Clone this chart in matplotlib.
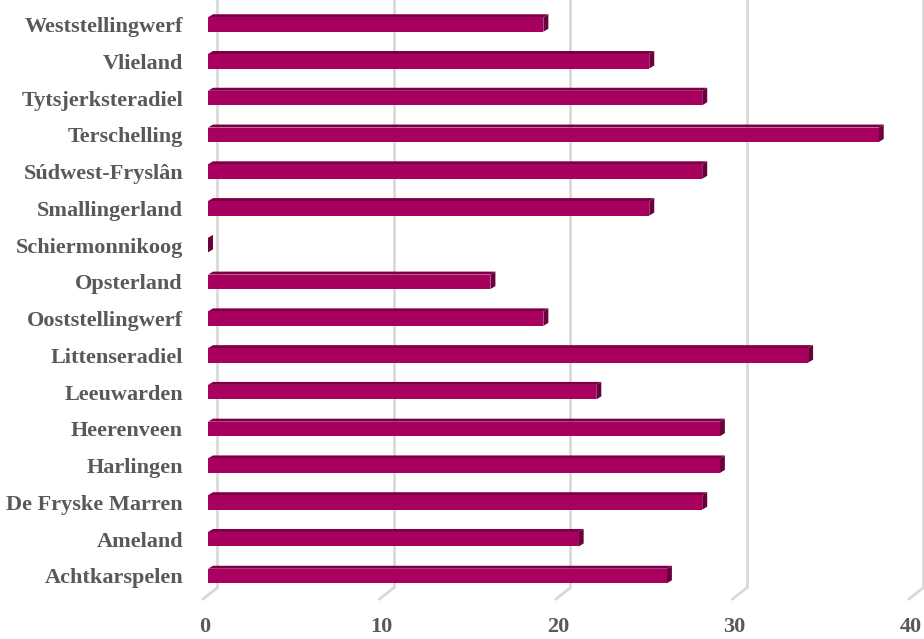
import matplotlib
matplotlib.use("Agg")
import matplotlib.pyplot as plt
from matplotlib.patches import Polygon
from matplotlib.transforms import offset_copy, blended_transform_factory

categories = ["Achtkarspelen", "Ameland", "De Fryske Marren", "Harlingen", "Heerenveen",
              "Leeuwarden", "Littenseradiel", "Ooststellingwerf", "Opsterland", "Schiermonnikoog",
              "Smallingerland", "Súdwest-Fryslân", "Terschelling", "Tytsjerksteradiel",
              "Vlieland", "Weststellingwerf"]
values = [26, 21, 28, 29, 29, 22, 34, 19, 16, 0, 25, 28, 38, 28, 25, 19]
xticks = [0, 10, 20, 30, 40]

W, H = 924, 639
fig = plt.figure(figsize=(W / 100, H / 100), dpi=100)
ax = fig.add_axes([208 / W, (H - 595) / H, 706 / W, 590 / H])
Y0, Y1 = -0.517, 15.53
ax.set_xlim(0, 40)
ax.set_ylim(Y0, Y1)
for s in ax.spines.values():
    s.set_visible(False)
ax.set_xticks([])

pxx = 40 / 706.0          # data units per pixel (x)
pxy = (Y1 - Y0) / 590.0   # data units per pixel (y)

grid_c = "#D9D9D9"
tr_back = offset_copy(ax.transData, fig=fig, x=9, y=0, units="dots")
y_floor = Y0 + 7 * pxy
for v in xticks:
    ax.plot([v, v], [y_floor, Y1 + 6 * pxy], color=grid_c, lw=2, transform=tr_back,
            clip_on=False, zorder=1, solid_capstyle="butt")
    ax.plot([v, v - 14 * pxx], [y_floor, y_floor - 11 * pxy], color=grid_c, lw=2,
            transform=tr_back, clip_on=False, zorder=1)

front = "#A8005F"
top_c = "#7D0046"
side_c = "#6A003C"
h = 14.5 * pxy
dx = 5 * pxx
dy = 3 * pxy
for i, v in enumerate(values):
    y0 = i - h / 2
    y1 = i + h / 2
    ax.add_patch(Polygon([(0, y1), (v, y1), (v + dx, y1 + dy), (dx, y1 + dy)],
                         closed=True, facecolor=top_c, edgecolor="none", zorder=3))
    ax.add_patch(Polygon([(v, y0), (v + dx, y0 + dy), (v + dx, y1 + dy), (v, y1)],
                         closed=True, facecolor=side_c, edgecolor="none", zorder=3))
    if v > 0:
        ax.add_patch(Polygon([(0, y0), (v, y0), (v, y1), (0, y1)], closed=True,
                             facecolor=front, edgecolor="none", zorder=4))

ax.set_yticks(range(len(categories)))
ax.set_yticklabels(categories, fontfamily="Liberation Serif", fontweight="bold",
                   fontsize=16, color="#595959")
ax.tick_params(axis="y", length=0, pad=18)

tr_lab = offset_copy(blended_transform_factory(ax.transData, ax.transAxes), fig=fig,
                     x=-3, y=0, units="dots")
for v in xticks:
    ax.text(v, -0.054, str(v), transform=tr_lab, ha="center", va="center",
            fontfamily="Liberation Serif", fontweight="bold", fontsize=16, color="#595959")

fig.savefig("out.png", dpi=100)
